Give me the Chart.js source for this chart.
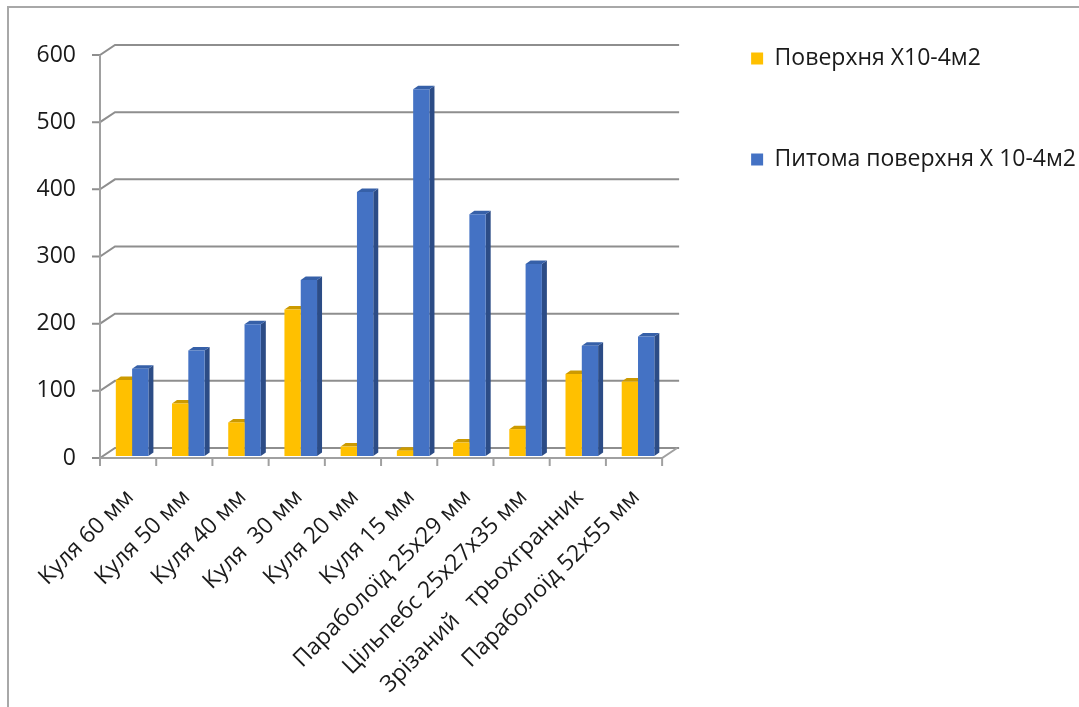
<!DOCTYPE html>
<html>
<head>
<meta charset="utf-8">
<script src="https://cdn.jsdelivr.net/npm/chart.js@4.4.1/dist/chart.umd.min.js"></script>
<style>
  html, body { margin: 0; padding: 0; background: #ffffff; }
  #wrap { position: relative; width: 1079px; height: 707px; overflow: hidden; }
  #frame { position: absolute; left: 7px; top: 6px; width: 1080px; height: 710px;
           border-left: 2px solid #a8a8a8; border-top: 2px solid #a8a8a8; pointer-events: none; }
  canvas { position: absolute; left: 0; top: 0; }
</style>
</head>
<body>
<div id="wrap">
  <canvas id="c" width="1079" height="707"></canvas>
  <div id="frame"></div>
</div>
<script>
const categories = [
  'Куля 60 мм', 'Куля 50 мм', 'Куля 40 мм', 'Куля  30 мм', 'Куля 20 мм',
  'Куля 15 мм', 'Параболоїд 25х29 мм', 'Цільпебс 25х27х35 мм',
  'Зрізаний   трьохгранник', 'Параболоїд 52х55 мм'
];
const seriesNames = ['Поверхня Х10-4м2', 'Питома поверхня Х 10-4м2'];
const surface = [113, 78, 50, 218, 14, 8, 20, 40, 122, 111];
const specificSurface = [130, 157, 196, 262, 393, 546, 360, 286, 164, 178];
const yTickValues = [0, 100, 200, 300, 400, 500, 600];

const FONT = '"Open Sans", "Noto Sans", sans-serif';
const faceColors = [
  { front: '#FFC000', side: '#B98B00', top: '#CC9A00' },
  { front: '#4472C4', side: '#2C4C86', top: '#3660A8' }
];

const frame3d = {
  id: 'frame3d',
  beforeDatasetsDraw(chart) {
    const { ctx, chartArea, scales } = chart;
    const { left, right, top, bottom } = chartArea;
    const y = scales.y;
    const DX = 15, DY = 10;
    ctx.save();
    ctx.lineWidth = 2;
    ctx.strokeStyle = '#8e8e8e';
    yTickValues.forEach(v => {
      const py = y.getPixelForValue(v);
      ctx.beginPath();
      ctx.moveTo(left - 8, py);
      ctx.lineTo(left, py);
      ctx.lineTo(left + DX, py - DY);
      ctx.lineTo(right + DX + 2, py - DY);
      ctx.stroke();
    });
    ctx.strokeStyle = '#a0a0a0';
    ctx.beginPath();
    ctx.moveTo(left, top);
    ctx.lineTo(left, bottom);
    ctx.lineTo(right, bottom);
    ctx.lineTo(right + DX, bottom - DY);
    ctx.stroke();
    const n = categories.length;
    const w = (right - left) / n;
    for (let i = 0; i <= n; i++) {
      const px = left + i * w;
      ctx.beginPath();
      ctx.moveTo(px, bottom);
      ctx.lineTo(px, bottom + 8);
      ctx.stroke();
    }
    ctx.restore();

    ctx.save();
    ctx.translate(4, -2);
    const dx = 5, dy = 3.5;
    chart.data.datasets.forEach((ds, di) => {
      const meta = chart.getDatasetMeta(di);
      const col = faceColors[di];
      meta.data.forEach(bar => {
        const p = bar.getProps(['x', 'y', 'base', 'width'], true);
        const l = p.x - p.width / 2, r = p.x + p.width / 2;
        ctx.fillStyle = col.side;
        ctx.beginPath();
        ctx.moveTo(r, p.y);
        ctx.lineTo(r + dx, p.y - dy);
        ctx.lineTo(r + dx, p.base - dy);
        ctx.lineTo(r, p.base);
        ctx.closePath();
        ctx.fill();
        ctx.fillStyle = col.top;
        ctx.beginPath();
        ctx.moveTo(l, p.y);
        ctx.lineTo(r, p.y);
        ctx.lineTo(r + dx, p.y - dy);
        ctx.lineTo(l + dx, p.y - dy);
        ctx.closePath();
        ctx.fill();
      });
    });
  },
  afterDatasetsDraw(chart) {
    chart.ctx.restore();
  }
};

new Chart(document.getElementById('c'), {
  type: 'bar',
  data: {
    labels: categories,
    datasets: [
      { label: seriesNames[0], data: surface, backgroundColor: faceColors[0].front,
        borderWidth: 0, xAxisID: 'x', yAxisID: 'y', clip: false },
      { label: seriesNames[1], data: specificSurface, backgroundColor: faceColors[1].front,
        borderWidth: 0, xAxisID: 'x', yAxisID: 'y', clip: false }
    ]
  },
  options: {
    responsive: false,
    devicePixelRatio: 1,
    animation: false,
    categoryPercentage: 0.58,
    barPercentage: 1.0,
    layout: { padding: { top: -31, left: 0, right: -7, bottom: 0 } },
    plugins: {
      tooltip: { enabled: false },
      legend: {
        position: 'right',
        align: 'start',
        maxWidth: 600,
        labels: {
          boxWidth: 12, boxHeight: 12, padding: 78,
          color: '#1a1a1a',
          font: { family: FONT, size: 23 }
        }
      }
    },
    scales: {
      x: {
        type: 'category',
        position: 'bottom',
        grid: { display: false },
        border: { display: false },
        ticks: {
          autoSkip: false, minRotation: 45, maxRotation: 45,
          padding: 18, labelOffset: 2,
          color: '#1a1a1a',
          font: { family: FONT, size: 23 }
        },
        afterFit(s) { s.height = 249; }
      },
      y: {
        min: 0, max: 600,
        position: 'left',
        grid: { display: false },
        border: { display: false },
        ticks: {
          stepSize: 100, padding: 16,
          color: '#1a1a1a',
          font: { family: FONT, size: 23 }
        },
        afterFit(s) { s.width = 100; }
      },
      topSpace: {
        type: 'linear',
        position: 'top',
        grid: { display: false },
        border: { display: false },
        ticks: { display: false },
        afterFit(s) { s.height = 86; }
      },
      rightSpace: {
        type: 'linear',
        position: 'right',
        grid: { display: false },
        border: { display: false },
        ticks: { display: false },
        afterFit(s) { s.width = 11; }
      }
    }
  },
  plugins: [frame3d]
});
</script>
</body>
</html>
